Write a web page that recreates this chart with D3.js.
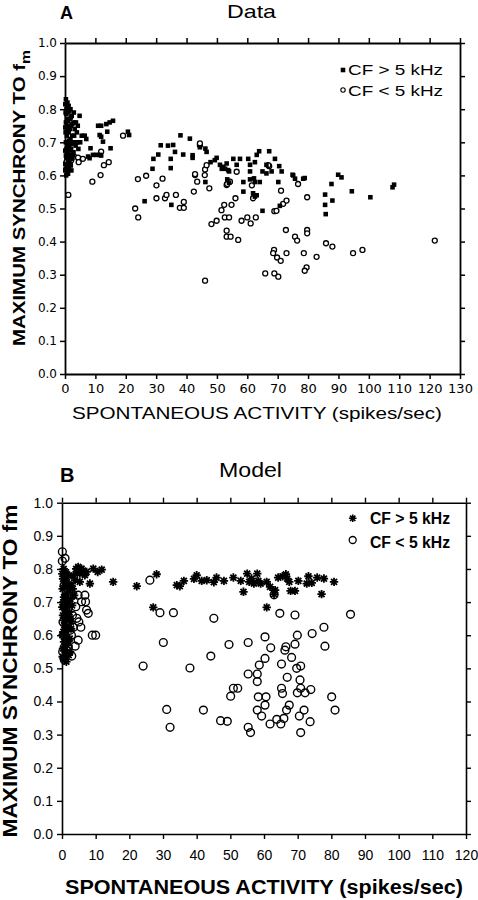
<!DOCTYPE html>
<html><head><meta charset="utf-8">
<script src="https://cdn.jsdelivr.net/npm/d3@7"></script>
<style>body{margin:0;background:#fff} svg{display:block}</style>
</head><body>
<svg id="chart" width="478" height="900"></svg>
<script>
// ---------- DATA ----------
const xTicksData = [0,10,20,30,40,50,60,70,80,90,100,110,120,130];
const xTicksModel = [0,10,20,30,40,50,60,70,80,90,100,110,120];
const yTicks = [0,0.1,0.2,0.3,0.4,0.5,0.6,0.7,0.8,0.9,1.0];
const legendLabels = ["CF > 5 kHz", "CF < 5 kHz"];

// Panel A (Data): CF > 5 kHz (filled)
const dataHighCF = [
 [0.3,0.83],[0.8,0.82],[1.2,0.81],[0.5,0.80],[1.8,0.80],[0.2,0.79],[1.0,0.79],[2.2,0.78],[0.6,0.77],[1.5,0.77],
 [2.8,0.76],[0.3,0.76],[1.1,0.75],[2.0,0.75],[0.7,0.74],[1.6,0.74],[3.2,0.74],[0.2,0.73],[1.2,0.73],[2.4,0.72],
 [0.6,0.72],[1.8,0.71],[0.3,0.70],[1.0,0.70],[2.6,0.70],[1.4,0.69],[0.5,0.68],[2.0,0.68],[3.5,0.69],[0.9,0.67],
 [1.6,0.66],[0.3,0.66],[2.3,0.65],[1.1,0.64],[0.6,0.63],[1.9,0.63],[0.2,0.62],[1.3,0.62],[0.8,0.61],[0.4,0.60],
 [2.8,0.67],[3.0,0.72],[4.2,0.75],[4.8,0.78],[5.5,0.72],[6.5,0.72],[7.0,0.71],[4.0,0.70],
 [0.1,0.815],[0.9,0.805],[1.4,0.795],[0.4,0.785],[1.9,0.775],[0.9,0.765],[2.4,0.755],[0.1,0.745],[1.3,0.705],
 [2.1,0.695],[0.7,0.69],[1.7,0.675],[0.1,0.675],[2.6,0.66],[0.5,0.655],[1.5,0.645],[0.1,0.635],[2.1,0.615],
 [1.0,0.605],[0.1,0.615],[3.6,0.76],[3.9,0.73],[2.9,0.79],[5.0,0.70],[4.4,0.68],
 [10.9,0.75],[11.9,0.75],[13.6,0.755],[14.7,0.76],[15.8,0.765],[11.4,0.722],[11.9,0.717],[13.9,0.732],[12.5,0.702],
 [15.0,0.682],[20.7,0.732],[21.1,0.722],[8.4,0.682],[9.2,0.662],[10.3,0.662],[11.4,0.662],[11.9,0.66],[7.6,0.657],[8.1,0.652],
 [38.0,0.721],[41.1,0.711],[31.5,0.691],[33.9,0.69],[35.6,0.692],[36.2,0.671],[38.9,0.663],[42.0,0.661],[42.0,0.653],
 [44.4,0.685],[46.2,0.681],[46.6,0.671],[29.1,0.650],[30.7,0.663],[34.8,0.65],[34.8,0.622],[28.8,0.620],[26.2,0.522],
 [35.0,0.511],[47.9,0.640],[46.2,0.580],[51.0,0.632],[52.1,0.626],[53.2,0.636],[51.6,0.620],[52.7,0.620],[53.7,0.616],
 [55.4,0.650],[57.6,0.650],[60.3,0.650],[63.1,0.662],[63.9,0.673],[67.2,0.673],[69.1,0.650],[56.5,0.632],[60.9,0.632],
 [62.5,0.640],[66.3,0.632],[65.0,0.612],[66.3,0.606],[68.0,0.612],[70.5,0.628],[71.3,0.612],[58.7,0.58],[62.5,0.58],
 [64.1,0.58],[70.2,0.58],[61.9,0.546],[63.1,0.540],[60.9,0.612],[54.0,0.612],[75.1,0.60],[75.7,0.59],[78.4,0.59],
 [65.0,0.493],[87.7,0.574],[85.6,0.542],[88.0,0.524],[85.6,0.511],[85.8,0.483],[89.9,0.602],[91.0,0.594],[94.4,0.552],
 [100.5,0.534],[107.8,0.564],[108.3,0.572],[74.9,0.602],[78.9,0.592],[70.7,0.508],[49.3,0.646],[49.9,0.653],
 [53.4,0.588],[54.0,0.578],[58.7,0.551],[60.9,0.588],[62.2,0.591],[62.5,0.536]
];
// Panel A (Data): CF < 5 kHz (open)
const dataLowCF = [
 [3.0,0.657],[4.3,0.654],[5.9,0.65],[4.5,0.64],[1.5,0.637],[0.8,0.65],[1.2,0.66],[2.0,0.645],[0.5,0.64],[1.0,0.62],
 [1.1,0.541],[19.1,0.72],[11.9,0.672],[12.8,0.631],[14.4,0.64],[11.7,0.601],[9.0,0.581],[24.0,0.589],[26.7,0.599],
 [32.1,0.59],[30.1,0.570],[30.1,0.531],[32.9,0.531],[33.4,0.541],[36.5,0.541],[23.1,0.50],[24.1,0.473],[37.8,0.502],
 [39.1,0.502],[39.1,0.52],[42.8,0.601],[43.5,0.581],[46.1,0.618],[46.6,0.631],[46.0,0.601],[47.5,0.561],[42.4,0.551],
 [44.4,0.691],[46.1,0.282],[53.2,0.571],[54.3,0.581],[56.5,0.611],[56.1,0.531],[54.8,0.511],[52.4,0.511],[51.5,0.495],
 [52.6,0.473],[54.0,0.473],[53.2,0.433],[53.2,0.415],[54.5,0.415],[57.0,0.405],[48.2,0.453],[49.9,0.463],[58.1,0.463],
 [60.0,0.473],[61.1,0.455],[62.8,0.473],[61.9,0.531],[61.5,0.570],[67.2,0.628],[68.9,0.492],[68.8,0.375],[68.5,0.365],
 [69.8,0.352],[65.9,0.304],[68.9,0.304],[70.2,0.294],[66.9,0.631],[71.1,0.554],[71.8,0.514],[72.9,0.524],[69.6,0.493],
 [76.7,0.574],[79.7,0.534],[72.7,0.435],[75.7,0.415],[76.4,0.403],[79.7,0.435],[79.7,0.425],[71.0,0.342],[72.9,0.365],
 [78.6,0.365],[82.8,0.354],[79.5,0.322],[78.9,0.312],[85.9,0.395],[88.0,0.385],[94.8,0.365],[97.9,0.375],[121.7,0.403],
 [44.4,0.697],[42.8,0.604],[53.4,0.574]
];
// Panel B (Model): CF > 5 kHz (asterisks)
const modelHighCF = [
 [0.5,0.80],[1.2,0.79],[2.0,0.78],[0.3,0.77],[1.5,0.76],[2.8,0.75],[0.8,0.75],[0.2,0.74],[1.9,0.73],[1.0,0.72],
 [2.5,0.71],[0.4,0.70],[1.6,0.69],[0.9,0.68],[2.2,0.67],[0.3,0.66],[1.4,0.65],[2.6,0.64],[0.7,0.63],[1.8,0.62],
 [0.4,0.61],[1.1,0.60],[2.3,0.59],[0.6,0.58],[1.5,0.57],[0.3,0.56],[1.0,0.55],[2.0,0.54],[0.5,0.53],[1.3,0.52],
 [3.2,0.74],[3.0,0.69],[2.7,0.62],[3.4,0.78],
 [0.1,0.785],[1.0,0.765],[2.4,0.745],[0.6,0.715],[1.6,0.705],[0.1,0.685],[1.2,0.665],[2.0,0.655],[0.6,0.645],
 [1.4,0.625],[0.1,0.60],[1.8,0.58],[0.8,0.565],[2.4,0.55],[0.2,0.535],[3.6,0.72],[4.2,0.80],[6.2,0.795],
 [4.8,0.806],[5.8,0.801],[7.3,0.791],[6.8,0.781],[4.4,0.791],[5.3,0.786],[9.3,0.801],[10.6,0.791],[11.8,0.798],
 [8.3,0.756],[5.3,0.761],[3.9,0.766],[15.2,0.761],[22.2,0.748],[28.1,0.784],[27.1,0.684],[34.1,0.751],[35.0,0.748],
 [36.2,0.764],[39.2,0.770],[40.0,0.781],[41.5,0.764],[43.0,0.766],[45.1,0.760],[45.9,0.774],[48.1,0.764],[50.9,0.774],
 [53.1,0.764],[53.9,0.731],[55.0,0.786],[55.6,0.761],[56.3,0.771],[57.0,0.756],[58.0,0.786],[58.3,0.764],[59.0,0.756],
 [60.8,0.761],[61.8,0.746],[63.0,0.724],[63.3,0.736],[64.2,0.774],[65.5,0.778],[66.5,0.784],[66.9,0.771],[67.5,0.761],
 [67.9,0.734],[69.2,0.734],[70.2,0.764],[72.7,0.756],[73.2,0.778],[74.2,0.758],[75.8,0.774],[77.1,0.724],[77.8,0.771],
 [80.8,0.761],[60.8,0.684]
];
// Panel B (Model): CF < 5 kHz (open circles)
const modelLowCF = [
 [0.1,0.852],[0.1,0.824],[0.9,0.832],[4.8,0.721],[6.8,0.721],[5.8,0.701],[7.0,0.701],[7.3,0.676],[7.8,0.666],[4.1,0.686],
 [4.4,0.651],[5.0,0.640],[5.6,0.624],[3.4,0.624],[4.8,0.585],[3.9,0.567],[2.9,0.537],[0.7,0.525],[9.0,0.600],[10.0,0.600],
 [1.9,0.656],[2.4,0.615],[1.4,0.585],[1.9,0.565],[0.5,0.60],[0.3,0.64],[0.8,0.70],[0.2,0.55],[1.1,0.68],[0.6,0.75],
 [2.8,0.60],[3.1,0.66],[26.1,0.766],[29.1,0.668],[33.1,0.668],[45.1,0.651],[30.1,0.578],[24.1,0.507],[38.0,0.501],
 [44.2,0.537],[49.6,0.572],[55.3,0.578],[31.1,0.376],[32.1,0.322],[42.0,0.374],[47.1,0.342],[49.1,0.340],[50.1,0.416],
 [50.9,0.440],[52.2,0.440],[55.3,0.322],[56.0,0.306],[55.3,0.483],[58.0,0.483],[58.0,0.460],[58.6,0.510],[58.3,0.414],
 [60.6,0.414],[58.0,0.374],[59.3,0.356],[60.3,0.389],[61.8,0.332],[63.8,0.346],[65.0,0.332],[65.9,0.349],[66.7,0.374],
 [67.5,0.389],[65.5,0.424],[65.2,0.440],[66.9,0.473],[65.2,0.513],[60.3,0.530],[62.0,0.562],[60.3,0.595],[66.2,0.555],
 [66.5,0.565],[68.2,0.533],[69.2,0.573],[69.9,0.600],[69.7,0.500],[70.9,0.507],[70.7,0.465],[70.9,0.440],[69.9,0.426],
 [72.2,0.426],[73.9,0.436],[71.9,0.374],[70.5,0.356],[70.9,0.306],[73.7,0.339],[64.7,0.666],[69.2,0.661],[74.3,0.605],
 [77.8,0.624],[78.1,0.567],[80.1,0.414],[81.1,0.374],[85.7,0.663],[63.0,0.722]
];

// ---------- DRAWING ----------
const svg = d3.select("#chart");

function starPath(r){
  const a = r*0.7071;
  return `M${-r},0L${r},0M0,${-r}L0,${r}M${-a},${-a}L${a},${a}M${-a},${a}L${a},${-a}`;
}

function drawAxes(g, x, y, xt, cfg){
  const [x0,x1] = x.range(); const [y1,y0] = y.range();
  const ax = [
    g.append("g").attr("transform",`translate(0,${y1})`)
      .call(d3.axisBottom(x).tickValues(xt).tickSize(5).tickSizeOuter(0).tickPadding(cfg.xPad).tickFormat(d3.format("d"))),
    g.append("g").attr("transform",`translate(${x0},0)`)
      .call(d3.axisLeft(y).tickValues(yTicks).tickSize(5).tickSizeOuter(0).tickPadding(cfg.yPad).tickFormat(d3.format(".1f"))),
    g.append("g").attr("transform",`translate(0,${y0})`)
      .call(d3.axisTop(x).tickValues(xt).tickSize(5).tickSizeOuter(0).tickFormat("")),
    g.append("g").attr("transform",`translate(${x1},0)`)
      .call(d3.axisRight(y).tickValues(yTicks).tickSize(5).tickSizeOuter(0).tickFormat(""))
  ];
  ax.forEach(a=>{
    a.selectAll("path").attr("stroke","#000").attr("stroke-width",cfg.lw);
    a.selectAll("line").attr("stroke","#000").attr("stroke-width",cfg.tw);
  });
  ax[0].selectAll("text").attr("fill","#000").style("font-family",cfg.font).style("font-size",cfg.xFs+"px");
  ax[1].selectAll("text").attr("fill","#000").style("font-family",cfg.font).style("font-size",cfg.yFs+"px");
}

// ---- Panel A ----
const gA = svg.append("g");
const xA = d3.scaleLinear().domain([0,130]).range([65,460]);
const yA = d3.scaleLinear().domain([0,1]).range([374,43]);
drawAxes(gA, xA, yA, xTicksData, {xPad:5, yPad:3, lw:1.8, tw:1.5, font:"'DejaVu Sans', sans-serif", xFs:13, yFs:12});

gA.append("g").selectAll("circle").data(dataLowCF).join("circle")
  .attr("cx",d=>xA(d[0])).attr("cy",d=>yA(d[1])).attr("r",2.5)
  .attr("fill","#fff").attr("stroke","#000").attr("stroke-width",1.3);
const sq = d3.symbol().type(d3.symbolSquare).size(21);
gA.append("g").selectAll("path").data(dataHighCF).join("path")
  .attr("transform",d=>`translate(${xA(d[0])},${yA(d[1])})`).attr("d",sq).attr("fill","#000");

// legend A
gA.append("path").attr("transform","translate(343,70)").attr("d",sq).attr("fill","#000");
gA.append("circle").attr("cx",343).attr("cy",90).attr("r",2.2).attr("fill","#fff").attr("stroke","#000").attr("stroke-width",1.1);
gA.selectAll("text.leg").data(legendLabels).join("text").attr("class","leg")
  .attr("x",348).attr("y",(d,i)=>75+i*20.5).attr("textLength",95).attr("lengthAdjust","spacingAndGlyphs")
  .style("font-family","Arial, 'Liberation Sans', sans-serif").style("font-size","14px").text(d=>d);

// titles A
svg.append("text").attr("x",60).attr("y",18.5).style("font-family","Arial, 'Liberation Sans', sans-serif")
  .style("font-size","18px").style("font-weight","bold").text("A");
svg.append("text").attr("x",251.5).attr("y",17.5).attr("text-anchor","middle").attr("textLength",49).attr("lengthAdjust","spacingAndGlyphs")
  .style("font-family","Arial, 'Liberation Sans', sans-serif").style("font-size","19px").text("Data");
svg.append("text").attr("x",257).attr("y",419).attr("text-anchor","middle").attr("textLength",370).attr("lengthAdjust","spacingAndGlyphs")
  .style("font-family","Arial, 'Liberation Sans', sans-serif").style("font-size","16.5px").style("font-weight","500")
  .text("SPONTANEOUS ACTIVITY (spikes/sec)");
const ytA = svg.append("text").attr("transform","translate(25,198) rotate(-90)").attr("text-anchor","middle")
  .attr("textLength",296).attr("lengthAdjust","spacingAndGlyphs")
  .style("font-family","Arial, 'Liberation Sans', sans-serif").style("font-size","17px").style("font-weight","bold");
ytA.append("tspan").text("MAXIMUM SYNCHRONY TO f");
ytA.append("tspan").attr("dy",5).style("font-size","13px").text("m");

// ---- Panel B ----
const gB = svg.append("g");
const xB = d3.scaleLinear().domain([0,120]).range([62,466]);
const yB = d3.scaleLinear().domain([0,1]).range([834,502.7]);
drawAxes(gB, xB, yB, xTicksModel, {xPad:11, yPad:4, lw:1.6, tw:1.4, font:"Arial, 'Liberation Sans', sans-serif", xFs:14, yFs:14});

gB.append("g").selectAll("circle").data(modelLowCF).join("circle")
  .attr("cx",d=>xB(d[0])).attr("cy",d=>yB(d[1])).attr("r",3.9)
  .attr("fill","none").attr("stroke","#000").attr("stroke-width",1.4);
gB.append("g").selectAll("path").data(modelHighCF).join("path")
  .attr("transform",d=>`translate(${xB(d[0])},${yB(d[1])})`).attr("d",starPath(4.2))
  .attr("fill","none").attr("stroke","#000").attr("stroke-width",1.8);

// legend B
gB.append("path").attr("transform","translate(352.7,518.3)").attr("d",starPath(3.8))
  .attr("fill","none").attr("stroke","#000").attr("stroke-width",1.6);
gB.append("circle").attr("cx",352.7).attr("cy",540).attr("r",3.5).attr("fill","none").attr("stroke","#000").attr("stroke-width",1.3);
gB.selectAll("text.leg").data(legendLabels).join("text").attr("class","leg")
  .attr("x",370).attr("y",(d,i)=>524+i*24).attr("textLength",80).attr("lengthAdjust","spacingAndGlyphs")
  .style("font-family","Arial, 'Liberation Sans', sans-serif").style("font-size","16px").style("font-weight","bold").text(d=>d);

// titles B
svg.append("text").attr("x",60).attr("y",482).style("font-family","Arial, 'Liberation Sans', sans-serif")
  .style("font-size","20px").style("font-weight","bold").text("B");
svg.append("text").attr("x",250.5).attr("y",477.3).attr("text-anchor","middle").attr("textLength",63).attr("lengthAdjust","spacingAndGlyphs")
  .style("font-family","Arial, 'Liberation Sans', sans-serif").style("font-size","20px").text("Model");
svg.append("text").attr("x",264).attr("y",894).attr("text-anchor","middle").attr("textLength",398).attr("lengthAdjust","spacingAndGlyphs")
  .style("font-family","Arial, 'Liberation Sans', sans-serif").style("font-size","20px").style("font-weight","bold")
  .text("SPONTANEOUS ACTIVITY (spikes/sec)");
svg.append("text").attr("transform","translate(17,671) rotate(-90)").attr("text-anchor","middle")
  .attr("textLength",333).attr("lengthAdjust","spacingAndGlyphs")
  .style("font-family","Arial, 'Liberation Sans', sans-serif").style("font-size","20px").style("font-weight","bold")
  .text("MAXIMUM SYNCHRONY TO fm");
</script>
</body></html>
